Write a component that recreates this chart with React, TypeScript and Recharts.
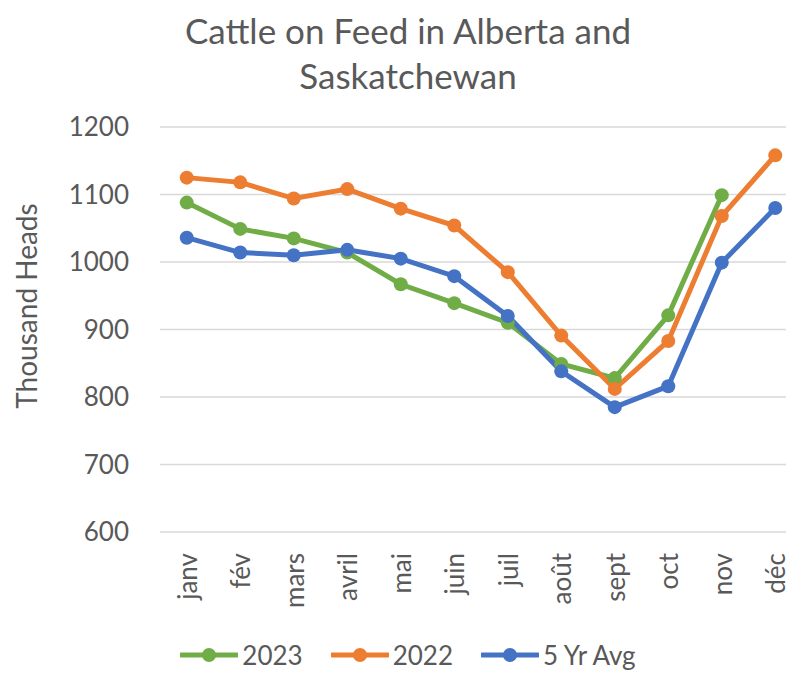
import { LineChart, Line, XAxis, YAxis, CartesianGrid, Legend } from 'recharts';

const months = ['janv', 'fév', 'mars', 'avril', 'mai', 'juin', 'juil', 'août', 'sept', 'oct', 'nov', 'déc'];
const y2023 = [1088, 1049, 1035, 1014, 967, 939, 910, 849, 828, 921, 1099, null];
const y2022 = [1125, 1118, 1094, 1108, 1079, 1054, 985, 891, 812, 883, 1068, 1158];
const avg5 = [1036, 1014, 1010, 1018, 1005, 979, 920, 838, 785, 816, 999, 1080];
const yTicks = [600, 700, 800, 900, 1000, 1100, 1200];

const SERIES = [
  { key: 'y2023', name: '2023', color: '#70AD47' },
  { key: 'y2022', name: '2022', color: '#ED7D31' },
  { key: 'avg5', name: '5 Yr Avg', color: '#4472C4' },
];

const FONT = 'Lato, "Open Sans", sans-serif';
const TEXT = '#595959';

const data = months.map((m, i) => ({ month: m, y2023: y2023[i], y2022: y2022[i], avg5: avg5[i] }));

function MonthTick(props: any) {
  const { x, y, payload } = props;
  return (
    <text
      x={x}
      y={y}
      transform={`rotate(-90, ${x}, ${y})`}
      textAnchor="end"
      dominantBaseline="central"
      fill={TEXT}
      fontSize={26}
      fontFamily={FONT}
    >
      {payload.value}
    </text>
  );
}

function LegendBox() {
  return (
    <div style={{ display: 'flex', justifyContent: 'center', gap: 28, fontFamily: FONT, fontSize: 26, color: TEXT }}>
      {SERIES.map((s) => (
        <div key={s.key} style={{ display: 'flex', alignItems: 'center' }}>
          <svg width={58} height={16} style={{ marginRight: 4 }}>
            <line x1={1} y1={8} x2={57} y2={8} stroke={s.color} strokeWidth={5} strokeLinecap="round" />
            <circle cx={29} cy={8} r={7} fill={s.color} />
          </svg>
          <span>{s.name}</span>
        </div>
      ))}
    </div>
  );
}

export default function App() {
  return (
    <div style={{ position: 'relative', width: 786, height: 671, overflow: 'hidden', background: '#fff' }}>
      <div
        style={{
          position: 'absolute',
          top: 0,
          left: 0,
          width: 800,
          textAlign: 'center',
          fontFamily: FONT,
          fontSize: 35,
          lineHeight: '45px',
          color: TEXT,
        }}
      >
        Cattle on Feed in Alberta and
        <br />
        Saskatchewan
      </div>
      <div
        style={{
          position: 'absolute',
          left: 18,
          top: 298,
          transform: 'translate(-50%, -50%) rotate(-90deg)',
          fontFamily: FONT,
          fontSize: 28,
          color: TEXT,
          whiteSpace: 'nowrap',
        }}
      >
        Thousand Heads
      </div>
      <LineChart
        width={800}
        height={671}
        data={data}
        margin={{ top: 119, right: 6, bottom: 0, left: 92 }}
        style={{ position: 'absolute', top: 0, left: 0 }}
      >
        <CartesianGrid vertical={false} stroke="#D9D9D9" strokeWidth={1.5} />
        <XAxis
          dataKey="month"
          axisLine={false}
          tickLine={false}
          tickSize={0}
          tick={<MonthTick />}
          interval={0}
          height={115}
          tickMargin={21}
          padding={{ left: 26.75, right: 26.75 }}
        />
        <YAxis
          domain={[600, 1200]}
          ticks={yTicks}
          axisLine={false}
          tickLine={false}
          tickSize={0}
          tickMargin={31}
          width={60}
          tick={{ fill: TEXT, fontSize: 26, fontFamily: FONT }}
          interval={0}
        />
        {SERIES.map((s) => (
          <Line
            key={s.key}
            type="linear"
            dataKey={s.key}
            name={s.name}
            stroke={s.color}
            strokeWidth={5}
            dot={{ r: 7, fill: s.color, stroke: s.color, strokeWidth: 0 }}
            activeDot={false}
            connectNulls={false}
            isAnimationActive={false}
          />
        ))}
        <Legend verticalAlign="bottom" align="center" content={() => <LegendBox />} wrapperStyle={{ bottom: 8, left: 0, width: 800 }} />
      </LineChart>
    </div>
  );
}
